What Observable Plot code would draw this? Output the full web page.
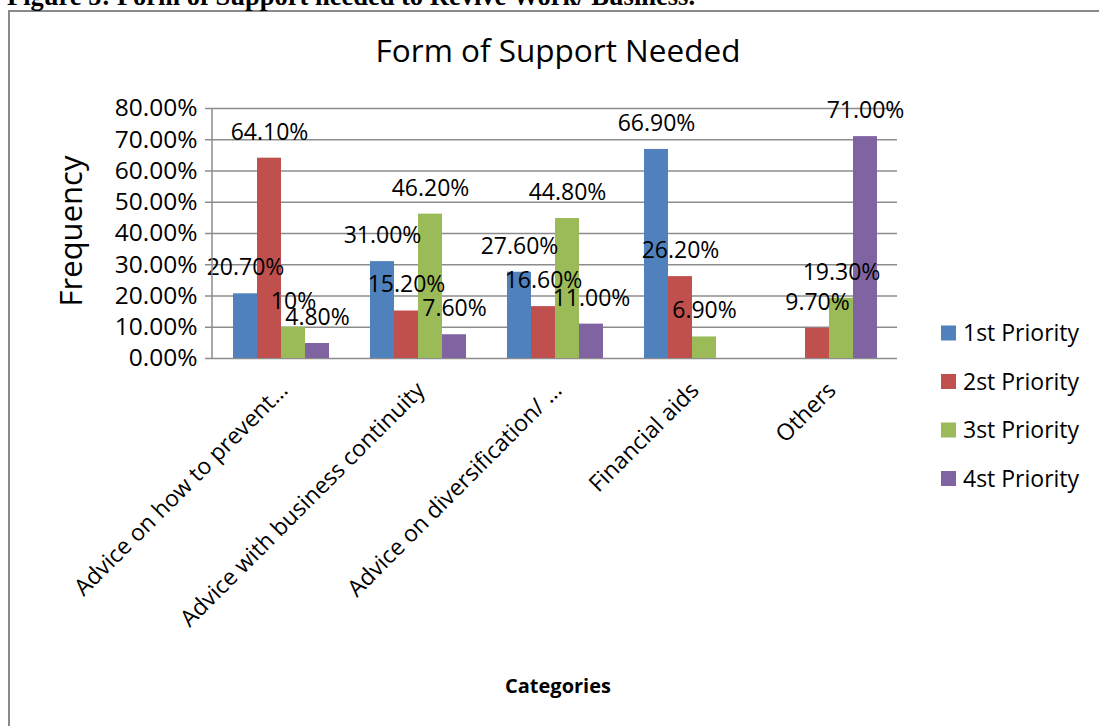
<!DOCTYPE html>
<html><head><meta charset="utf-8">
<script src="https://cdn.jsdelivr.net/npm/d3@7"></script>
<script src="https://cdn.jsdelivr.net/npm/@observablehq/plot@0.6"></script>
<style>
html,body{margin:0;padding:0;background:#fff;}
#wrap{position:relative;width:1099px;height:726px;overflow:hidden;}
</style></head><body>
<div id="wrap"></div>
<script>
const categories = ["Advice on how to prevent…", "Advice with business continuity", "Advice on diversification/ …", "Financial aids", "Others"];
const series = ["1st Priority", "2st Priority", "3st Priority", "4st Priority"];
const colors = ["#4F81BD", "#C0504D", "#9BBB59", "#8064A2"];
const p1 = [20.7, 31.0, 27.6, 66.9, null];
const p2 = [64.1, 15.2, 16.6, 26.2, 9.7];
const p3 = [10, 46.2, 44.8, 6.9, 19.3];
const p4 = [4.8, 7.6, 11.0, null, 71.0];
const l1 = ["20.70%", "31.00%", "27.60%", "66.90%", null];
const l2 = ["64.10%", "15.20%", "16.60%", "26.20%", "9.70%"];
const l3 = ["10%", "46.20%", "44.80%", "6.90%", "19.30%"];
const l4 = ["4.80%", "7.60%", "11.00%", null, "71.00%"];
const yTicks = [0, 10, 20, 30, 40, 50, 60, 70, 80];
const chartTitle = "Form of Support Needed";
const yLabel = "Frequency";
const xLabel = "Categories";
const figCaption = "Figure 5: Form of Support needed to Revive Work/ Business.";

const vals = [p1, p2, p3, p4];
const labs = [l1, l2, l3, l4];
const rows = series.flatMap((s, j) => categories.map((c, i) => ({cat: c, series: s, value: vals[j][i], label: labs[j][i]})))
  .filter(d => d.value != null);

const font = '"Open Sans", sans-serif';
const chart = Plot.plot({
  width: 1099, height: 726,
  marginLeft: 212, marginRight: 202, marginTop: 108, marginBottom: 368,
  style: {fontFamily: font, fontSize: "23px", color: "#000", background: "transparent"},
  fx: {domain: categories, padding: 0, label: null},
  x: {domain: series, paddingInner: 0, paddingOuter: 0.74, axis: null},
  y: {domain: [0, 80], label: null},
  color: {domain: series, range: colors},
  marks: [
    Plot.ruleY(yTicks, {stroke: "#8c8c8c", strokeWidth: 1.5}),
    Plot.barY(rows, {fx: "cat", x: "series", y: "value", fill: "series", inset: 0}),
    Plot.text(rows, {fx: "cat", x: "series", y: "value", text: "label", dy: -26, fontSize: 23, fill: "#000"}),
    Plot.axisY({ticks: yTicks, tickFormat: d => d.toFixed(2) + "%", tickSize: 7, tickPadding: 8, stroke: "#8c8c8c", strokeWidth: 1.5, label: null, fontSize: 24.5}),
    Plot.axisFx({anchor: "bottom", tickRotate: -45, tickSize: 0, tickPadding: 10, label: null, fontSize: 23, dx: 3, dy: 18})
  ]
});
document.getElementById("wrap").appendChild(chart);

const svg = d3.select(chart);
const yr = chart.scale("y").range;
// outer frame
svg.insert("rect", ":first-child").attr("x", 9).attr("y", 11).attr("width", 1200).attr("height", 800)
  .attr("fill", "none").attr("stroke", "#8a8a8a").attr("stroke-width", 2);
// y axis line
svg.append("line").attr("x1", 212).attr("x2", 212).attr("y1", yr[0]).attr("y2", yr[1])
  .attr("stroke", "#8c8c8c").attr("stroke-width", 1.5);
// caption (cut at top)
svg.append("text").attr("x", 7).attr("y", 5).attr("text-anchor", "start").attr("font-family", '"Liberation Serif", serif')
  .attr("font-weight", "bold").attr("font-size", 26.5).attr("fill", "#000").text(figCaption);
// title
svg.append("text").attr("x", 558).attr("y", 62).attr("text-anchor", "middle").attr("font-family", font)
  .attr("font-size", 31.5).attr("fill", "#000").text(chartTitle);
// y label
svg.append("text").attr("transform", "translate(82,231) rotate(-90)").attr("text-anchor", "middle")
  .attr("font-family", font).attr("font-size", 31).attr("fill", "#000").text(yLabel);
// x label
svg.append("text").attr("x", 558).attr("y", 693).attr("text-anchor", "middle").attr("font-family", font)
  .attr("font-weight", "bold").attr("font-size", 20).attr("fill", "#000").text(xLabel);
// legend
const lg = svg.append("g");
series.forEach((s, i) => {
  const cy = 333 + i * 48.5;
  lg.append("rect").attr("x", 941).attr("y", cy - 7.5).attr("width", 15).attr("height", 15).attr("fill", colors[i]);
  lg.append("text").attr("x", 963).attr("y", cy).attr("dy", "0.35em").attr("text-anchor", "start").attr("font-family", font)
    .attr("font-size", 23).attr("fill", "#000").text(s);
});
</script>
</body></html>
